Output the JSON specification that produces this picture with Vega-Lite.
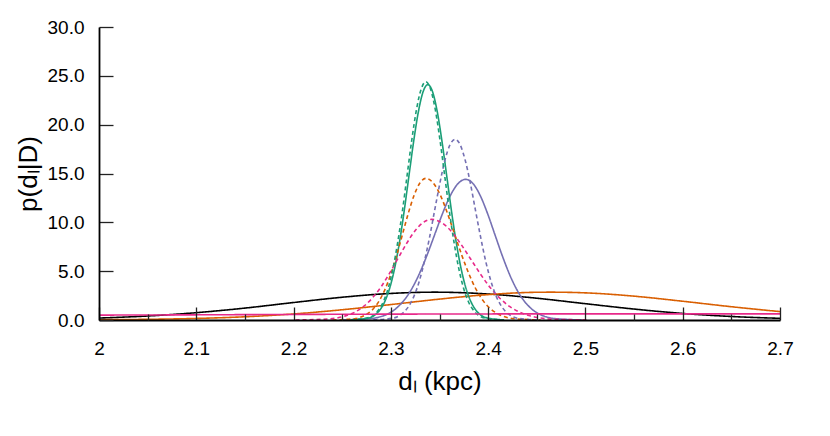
{
  "$schema": "https://vega.github.io/schema/vega-lite/v6.json",
  "width": 681,
  "height": 293,
  "autosize": "none",
  "padding": {"left": 99, "top": 27, "right": 50, "bottom": 116},
  "background": "white",
  "config": {"view": {"stroke": null}, "font": "Liberation Sans"},
  "data": {"values": [
    {"c":"black","s":"solid","x":2.0,"y":0.20},{"c":"black","s":"solid","x":2.05,"y":0.41},{"c":"black","s":"solid","x":2.1,"y":0.75},{"c":"black","s":"solid","x":2.15,"y":1.22},{"c":"black","s":"solid","x":2.2,"y":1.79},{"c":"black","s":"solid","x":2.25,"y":2.33},{"c":"black","s":"solid","x":2.3,"y":2.72},{"c":"black","s":"solid","x":2.345,"y":2.85},{"c":"black","s":"solid","x":2.4,"y":2.66},{"c":"black","s":"solid","x":2.45,"y":2.23},{"c":"black","s":"solid","x":2.5,"y":1.67},{"c":"black","s":"solid","x":2.55,"y":1.12},{"c":"black","s":"solid","x":2.6,"y":0.67},{"c":"black","s":"solid","x":2.65,"y":0.36},{"c":"black","s":"solid","x":2.7,"y":0.17},
    {"c":"orange","s":"solid","x":2.0,"y":0.03},{"c":"orange","s":"solid","x":2.05,"y":0.07},{"c":"orange","s":"solid","x":2.1,"y":0.16},{"c":"orange","s":"solid","x":2.15,"y":0.33},{"c":"orange","s":"solid","x":2.2,"y":0.62},{"c":"orange","s":"solid","x":2.25,"y":1.05},{"c":"orange","s":"solid","x":2.3,"y":1.58},{"c":"orange","s":"solid","x":2.35,"y":2.14},{"c":"orange","s":"solid","x":2.4,"y":2.60},{"c":"orange","s":"solid","x":2.45,"y":2.84},{"c":"orange","s":"solid","x":2.465,"y":2.85},{"c":"orange","s":"solid","x":2.5,"y":2.78},{"c":"orange","s":"solid","x":2.55,"y":2.44},{"c":"orange","s":"solid","x":2.6,"y":1.92},{"c":"orange","s":"solid","x":2.65,"y":1.36},{"c":"orange","s":"solid","x":2.7,"y":0.86},
    {"c":"purple","s":"solid","x":2.249,"y":0.005},{"c":"purple","s":"solid","x":2.281,"y":0.16},{"c":"purple","s":"solid","x":2.289,"y":0.33},{"c":"purple","s":"solid","x":2.297,"y":0.63},{"c":"purple","s":"solid","x":2.305,"y":1.15},{"c":"purple","s":"solid","x":2.313,"y":1.95},{"c":"purple","s":"solid","x":2.321,"y":3.11},{"c":"purple","s":"solid","x":2.329,"y":4.67},{"c":"purple","s":"solid","x":2.337,"y":6.59},{"c":"purple","s":"solid","x":2.345,"y":8.73},{"c":"purple","s":"solid","x":2.353,"y":10.87},{"c":"purple","s":"solid","x":2.361,"y":12.71},{"c":"purple","s":"solid","x":2.369,"y":13.96},{"c":"purple","s":"solid","x":2.377,"y":14.4},{"c":"purple","s":"solid","x":2.3845,"y":13.96},{"c":"purple","s":"solid","x":2.392,"y":12.71},{"c":"purple","s":"solid","x":2.3995,"y":10.87},{"c":"purple","s":"solid","x":2.407,"y":8.73},{"c":"purple","s":"solid","x":2.4145,"y":6.59},{"c":"purple","s":"solid","x":2.422,"y":4.67},{"c":"purple","s":"solid","x":2.4295,"y":3.11},{"c":"purple","s":"solid","x":2.437,"y":1.95},{"c":"purple","s":"solid","x":2.4445,"y":1.15},{"c":"purple","s":"solid","x":2.452,"y":0.63},{"c":"purple","s":"solid","x":2.4595,"y":0.33},{"c":"purple","s":"solid","x":2.467,"y":0.16},{"c":"purple","s":"solid","x":2.497,"y":0.005},
    {"c":"green","s":"solid","x":2.2596,"y":0.01},{"c":"green","s":"solid","x":2.2792,"y":0.27},{"c":"green","s":"solid","x":2.2841,"y":0.55},{"c":"green","s":"solid","x":2.289,"y":1.06},{"c":"green","s":"solid","x":2.2939,"y":1.92},{"c":"green","s":"solid","x":2.2988,"y":3.26},{"c":"green","s":"solid","x":2.3037,"y":5.21},{"c":"green","s":"solid","x":2.3086,"y":7.82},{"c":"green","s":"solid","x":2.3135,"y":11.03},{"c":"green","s":"solid","x":2.3184,"y":14.62},{"c":"green","s":"solid","x":2.3233,"y":18.19},{"c":"green","s":"solid","x":2.3282,"y":21.27},{"c":"green","s":"solid","x":2.3331,"y":23.36},{"c":"green","s":"solid","x":2.338,"y":24.1},{"c":"green","s":"solid","x":2.3429,"y":23.36},{"c":"green","s":"solid","x":2.3478,"y":21.27},{"c":"green","s":"solid","x":2.3527,"y":18.19},{"c":"green","s":"solid","x":2.3576,"y":14.62},{"c":"green","s":"solid","x":2.3625,"y":11.03},{"c":"green","s":"solid","x":2.3674,"y":7.82},{"c":"green","s":"solid","x":2.3723,"y":5.21},{"c":"green","s":"solid","x":2.3772,"y":3.26},{"c":"green","s":"solid","x":2.3821,"y":1.92},{"c":"green","s":"solid","x":2.387,"y":1.06},{"c":"green","s":"solid","x":2.3919,"y":0.55},{"c":"green","s":"solid","x":2.3968,"y":0.27},{"c":"green","s":"solid","x":2.4164,"y":0.01},
    {"c":"orange","s":"dashed","x":2.240,"y":0.005},{"c":"orange","s":"dashed","x":2.264,"y":0.16},{"c":"orange","s":"dashed","x":2.270,"y":0.33},{"c":"orange","s":"dashed","x":2.276,"y":0.64},{"c":"orange","s":"dashed","x":2.282,"y":1.15},{"c":"orange","s":"dashed","x":2.288,"y":1.96},{"c":"orange","s":"dashed","x":2.294,"y":3.14},{"c":"orange","s":"dashed","x":2.300,"y":4.71},{"c":"orange","s":"dashed","x":2.306,"y":6.64},{"c":"orange","s":"dashed","x":2.312,"y":8.79},{"c":"orange","s":"dashed","x":2.318,"y":10.95},{"c":"orange","s":"dashed","x":2.324,"y":12.80},{"c":"orange","s":"dashed","x":2.330,"y":14.05},{"c":"orange","s":"dashed","x":2.336,"y":14.5},{"c":"orange","s":"dashed","x":2.3434,"y":14.05},{"c":"orange","s":"dashed","x":2.3508,"y":12.80},{"c":"orange","s":"dashed","x":2.3581,"y":10.95},{"c":"orange","s":"dashed","x":2.3655,"y":8.79},{"c":"orange","s":"dashed","x":2.3729,"y":6.64},{"c":"orange","s":"dashed","x":2.3803,"y":4.71},{"c":"orange","s":"dashed","x":2.3876,"y":3.14},{"c":"orange","s":"dashed","x":2.395,"y":1.96},{"c":"orange","s":"dashed","x":2.4024,"y":1.15},{"c":"orange","s":"dashed","x":2.4098,"y":0.64},{"c":"orange","s":"dashed","x":2.4171,"y":0.33},{"c":"orange","s":"dashed","x":2.4245,"y":0.16},{"c":"orange","s":"dashed","x":2.454,"y":0.005},
    {"c":"magenta","s":"dashed","x":2.202,"y":0.004},{"c":"magenta","s":"dashed","x":2.237,"y":0.11},{"c":"magenta","s":"dashed","x":2.2458,"y":0.23},{"c":"magenta","s":"dashed","x":2.2545,"y":0.45},{"c":"magenta","s":"dashed","x":2.2633,"y":0.82},{"c":"magenta","s":"dashed","x":2.272,"y":1.39},{"c":"magenta","s":"dashed","x":2.2808,"y":2.23},{"c":"magenta","s":"dashed","x":2.2895,"y":3.34},{"c":"magenta","s":"dashed","x":2.2983,"y":4.72},{"c":"magenta","s":"dashed","x":2.307,"y":6.25},{"c":"magenta","s":"dashed","x":2.3158,"y":7.77},{"c":"magenta","s":"dashed","x":2.3245,"y":9.09},{"c":"magenta","s":"dashed","x":2.3333,"y":9.98},{"c":"magenta","s":"dashed","x":2.342,"y":10.3},{"c":"magenta","s":"dashed","x":2.352,"y":9.98},{"c":"magenta","s":"dashed","x":2.362,"y":9.09},{"c":"magenta","s":"dashed","x":2.372,"y":7.77},{"c":"magenta","s":"dashed","x":2.382,"y":6.25},{"c":"magenta","s":"dashed","x":2.392,"y":4.72},{"c":"magenta","s":"dashed","x":2.402,"y":3.34},{"c":"magenta","s":"dashed","x":2.412,"y":2.23},{"c":"magenta","s":"dashed","x":2.422,"y":1.39},{"c":"magenta","s":"dashed","x":2.432,"y":0.82},{"c":"magenta","s":"dashed","x":2.442,"y":0.45},{"c":"magenta","s":"dashed","x":2.452,"y":0.23},{"c":"magenta","s":"dashed","x":2.462,"y":0.11},{"c":"magenta","s":"dashed","x":2.502,"y":0.004},
    {"c":"purple","s":"dashed","x":2.282,"y":0.01},{"c":"purple","s":"dashed","x":2.303,"y":0.21},{"c":"purple","s":"dashed","x":2.3083,"y":0.42},{"c":"purple","s":"dashed","x":2.3135,"y":0.81},{"c":"purple","s":"dashed","x":2.3188,"y":1.47},{"c":"purple","s":"dashed","x":2.324,"y":2.50},{"c":"purple","s":"dashed","x":2.3293,"y":4.00},{"c":"purple","s":"dashed","x":2.3345,"y":6.01},{"c":"purple","s":"dashed","x":2.3398,"y":8.47},{"c":"purple","s":"dashed","x":2.345,"y":11.22},{"c":"purple","s":"dashed","x":2.3503,"y":13.96},{"c":"purple","s":"dashed","x":2.3555,"y":16.33},{"c":"purple","s":"dashed","x":2.3608,"y":17.93},{"c":"purple","s":"dashed","x":2.366,"y":18.5},{"c":"purple","s":"dashed","x":2.3713,"y":17.93},{"c":"purple","s":"dashed","x":2.3765,"y":16.33},{"c":"purple","s":"dashed","x":2.3818,"y":13.96},{"c":"purple","s":"dashed","x":2.387,"y":11.22},{"c":"purple","s":"dashed","x":2.3923,"y":8.47},{"c":"purple","s":"dashed","x":2.3975,"y":6.01},{"c":"purple","s":"dashed","x":2.4028,"y":4.00},{"c":"purple","s":"dashed","x":2.408,"y":2.50},{"c":"purple","s":"dashed","x":2.4133,"y":1.47},{"c":"purple","s":"dashed","x":2.4185,"y":0.81},{"c":"purple","s":"dashed","x":2.4238,"y":0.42},{"c":"purple","s":"dashed","x":2.429,"y":0.21},{"c":"purple","s":"dashed","x":2.45,"y":0.01},
    {"c":"green","s":"dashed","x":2.2588,"y":0.01},{"c":"green","s":"dashed","x":2.2781,"y":0.27},{"c":"green","s":"dashed","x":2.2829,"y":0.56},{"c":"green","s":"dashed","x":2.2877,"y":1.07},{"c":"green","s":"dashed","x":2.2926,"y":1.94},{"c":"green","s":"dashed","x":2.2974,"y":3.30},{"c":"green","s":"dashed","x":2.3022,"y":5.28},{"c":"green","s":"dashed","x":2.307,"y":7.92},{"c":"green","s":"dashed","x":2.3119,"y":11.17},{"c":"green","s":"dashed","x":2.3167,"y":14.80},{"c":"green","s":"dashed","x":2.3215,"y":18.42},{"c":"green","s":"dashed","x":2.3263,"y":21.53},{"c":"green","s":"dashed","x":2.3312,"y":23.65},{"c":"green","s":"dashed","x":2.336,"y":24.4},{"c":"green","s":"dashed","x":2.3408,"y":23.65},{"c":"green","s":"dashed","x":2.3457,"y":21.53},{"c":"green","s":"dashed","x":2.3505,"y":18.42},{"c":"green","s":"dashed","x":2.3553,"y":14.80},{"c":"green","s":"dashed","x":2.3601,"y":11.17},{"c":"green","s":"dashed","x":2.365,"y":7.92},{"c":"green","s":"dashed","x":2.3698,"y":5.28},{"c":"green","s":"dashed","x":2.3746,"y":3.30},{"c":"green","s":"dashed","x":2.3794,"y":1.94},{"c":"green","s":"dashed","x":2.3843,"y":1.07},{"c":"green","s":"dashed","x":2.3891,"y":0.56},{"c":"green","s":"dashed","x":2.3939,"y":0.27},{"c":"green","s":"dashed","x":2.4132,"y":0.01},
    {"c":"magenta","s":"solid","x":2.0,"y":0.5},{"c":"magenta","s":"solid","x":2.1,"y":0.53},{"c":"magenta","s":"solid","x":2.2,"y":0.57},{"c":"magenta","s":"solid","x":2.3,"y":0.6},{"c":"magenta","s":"solid","x":2.5,"y":0.63},{"c":"magenta","s":"solid","x":2.7,"y":0.63}
  ]},
  "layer": [
    {
      "mark": {"type": "line", "strokeWidth": 1.6, "interpolate": "monotone", "clip": true},
      "encoding": {
        "x": {"field": "x", "type": "quantitative",
          "scale": {"domain": [2, 2.7], "nice": false, "zero": false},
          "axis": {"orient": "bottom", "values": [2, 2.1, 2.2, 2.3, 2.4, 2.5, 2.6, 2.7], "format": ".1~f",
            "grid": false, "tickSize": -13, "tickWidth": 1.3, "tickColor": "#222222",
            "domainColor": "#000000", "domainWidth": 1.8, "labelFontSize": 19, "labelColor": "#000000",
            "labelPadding": 32, "labelFlush": false, "title": "dₗ (kpc)", "titleFontSize": 26,
            "titleFontWeight": "normal", "titleColor": "#000000", "titlePadding": 10, "zindex": 1}},
        "y": {"field": "y", "type": "quantitative",
          "scale": {"domain": [0, 30], "nice": false},
          "axis": {"values": [0, 5, 10, 15, 20, 25, 30], "format": ".1f", "grid": false,
            "tickSize": -14, "tickWidth": 1.3, "tickColor": "#222222",
            "domainColor": "#000000", "domainWidth": 1.8, "labelFontSize": 19, "labelColor": "#000000",
            "labelPadding": 29, "title": "p(dₗ|D)", "titleFontSize": 26, "titleFontWeight": "normal",
            "titleColor": "#000000", "titlePadding": 6, "zindex": 1}},
        "color": {"field": "c", "type": "nominal", "legend": null,
          "scale": {"domain": ["black", "orange", "purple", "green", "magenta"],
            "range": ["#000000", "#d95f02", "#7570b3", "#1b9e77", "#e7298a"]}},
        "strokeDash": {"field": "s", "type": "nominal", "legend": null,
          "scale": {"domain": ["solid", "dashed"], "range": [[1, 0], [4, 3]]}}
      }
    },
    {
      "mark": {"type": "line", "opacity": 0},
      "encoding": {
        "x": {"field": "x", "type": "quantitative",
          "axis": {"orient": "bottom", "values": [2.05, 2.15, 2.25, 2.35, 2.45, 2.55, 2.65],
            "labels": false, "domain": false, "grid": false, "title": null,
            "tickSize": -6, "tickWidth": 1.3, "tickColor": "#222222", "zindex": 1}},
        "detail": {"field": "c"}
      }
    }
  ],
  "resolve": {"axis": {"x": "independent"}}
}
